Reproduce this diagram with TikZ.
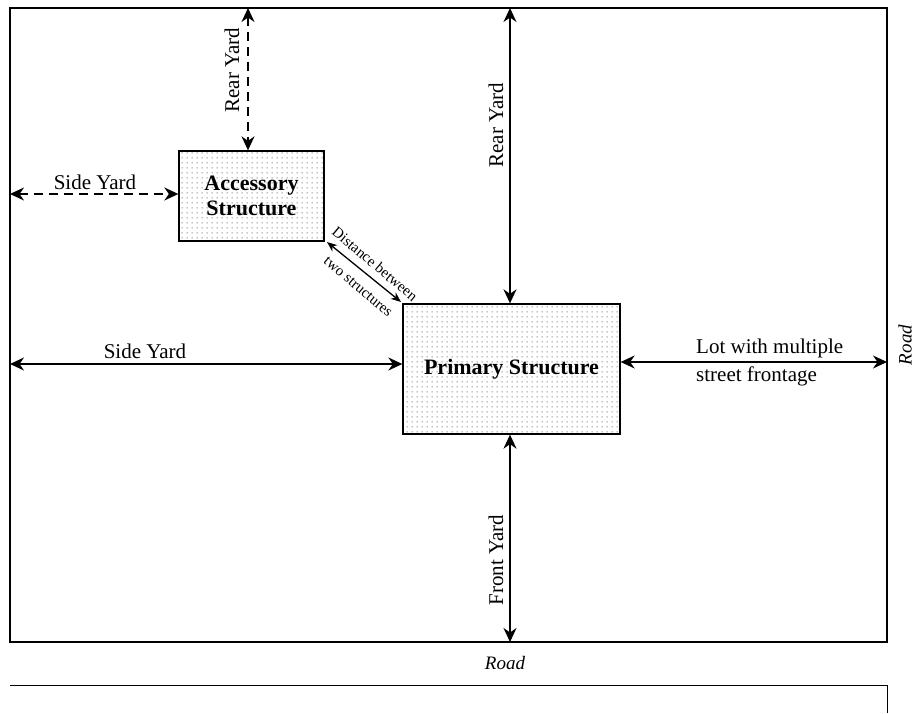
\documentclass[tikz,border=0pt]{standalone}
\usepackage{fontspec}
\setmainfont{Liberation Serif}
\usetikzlibrary{arrows.meta,patterns}
\pgfdeclarepatternformonly{sparsedots}{\pgfpointorigin}{\pgfpoint{4.5pt}{4.5pt}}{\pgfpoint{4.5pt}{4.5pt}}{\pgfpathrectangle{\pgfpoint{1.8pt}{1.8pt}}{\pgfpoint{1pt}{1pt}}\pgfusepath{fill}}
\begin{document}
\begin{tikzpicture}[x=1pt,y=1pt,
  lbl/.style={font=\fontsize{21}{23}\selectfont, inner sep=1pt},
  ital/.style={font=\itshape\fontsize{19}{21}\selectfont, inner sep=1pt},
  small/.style={font=\fontsize{15}{17}\selectfont, inner sep=0pt},
  structbox/.style={draw, line width=1.3pt, pattern=sparsedots, pattern color=black!55, align=center, font=\bfseries\fontsize{22}{25}\selectfont, inner sep=0pt},
  dim/.style={line width=1.7pt, {Stealth[length=14pt,width=13pt,inset=4.5pt]}-{Stealth[length=14pt,width=13pt,inset=4.5pt]}},
  dimdash/.style={dim, dash pattern=on 9pt off 6pt}
]
\useasboundingbox (0,0) rectangle (915,713);
% lot
\draw[line width=1.3pt] (10,705) rectangle (887,71);
\draw[line width=0.8pt] (10,28) -- (887,28) -- (887,0);
\node[ital] (roadb) at (505,50) {Road};
\node[ital, rotate=90] (roadr) at (905,368) {Road};
% structures
\node[structbox, minimum width=145pt, minimum height=90pt] (acc) at (251.5,517) {Accessory\\Structure};
\node[structbox, minimum width=217pt, minimum height=130pt] (prim) at (511.5,344) {Primary Structure};
% coordinates for free ends
\coordinate (rtop1) at (248,705);
\coordinate (sl1) at (10,519);
\coordinate (rtop2) at (510,705);
\coordinate (sl2) at (10,349);
\coordinate (rr) at (887,351);
\coordinate (fb) at (510,71);
\coordinate (d1) at (327,471);
\coordinate (d2) at (401,411);
% dimension arrows
\draw[dimdash] (rtop1) -- (acc.north -| rtop1);
\node[lbl, rotate=90] (lr1) at (232,643) {Rear Yard};
\draw[dimdash] (sl1) -- (acc.west |- sl1);
\node[lbl] (ls1) at (95,531) {Side Yard};
\draw[dim] (rtop2) -- (prim.north -| rtop2);
\node[lbl, rotate=90] (lr2) at (496,588) {Rear Yard};
\draw[dim] (sl2) -- (prim.west |- sl2);
\node[lbl] (ls2) at (145,362) {Side Yard};
\draw[dim] (prim.east |- rr) -- (rr);
\node[lbl, anchor=west] (lf1) at (695,365) {Lot with multiple};
\node[lbl, anchor=west] (lf2) at (695,337) {street frontage};
\draw[dim] (prim.south -| fb) -- (fb);
\node[lbl, rotate=90] (lfy) at (496,153) {Front Yard};
\draw[line width=1.3pt, {Stealth[length=10pt,width=8pt,inset=3pt]}-{Stealth[length=10pt,width=8pt,inset=3pt]}] (d1) -- (d2);
\node[small, rotate=-40] (ld1) at (375,449) {Distance between};
\node[small, rotate=-40] (ld2) at (358,426) {two structures};
\end{tikzpicture}
\end{document}
